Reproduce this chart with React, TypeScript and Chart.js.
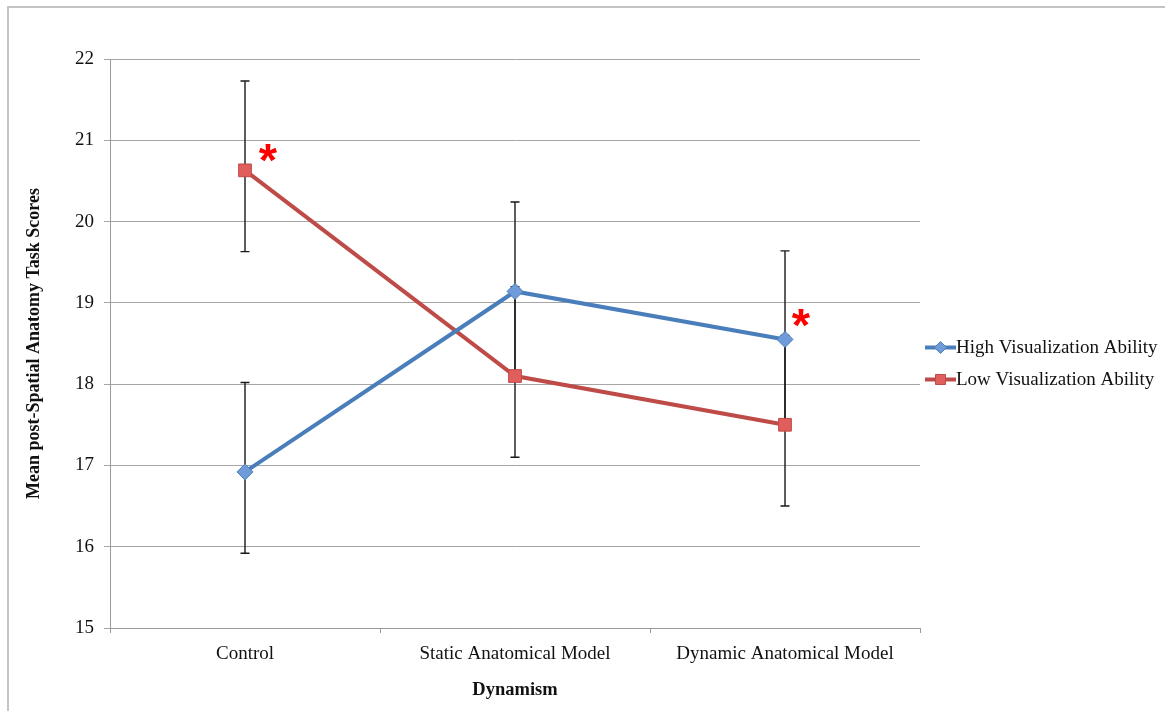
import React, { useEffect, useRef } from 'react';
import { Chart, registerables } from 'chart.js';

Chart.register(...registerables);

const categories = ['Control', 'Static Anatomical Model', 'Dynamic Anatomical Model'];
const seriesLabels = ['High Visualization Ability', 'Low Visualization Ability'];
const highValues = [16.92, 19.14, 18.55];
const lowValues = [20.63, 18.1, 17.5];
const highErrPlus = [1.1, 1.1, 1.09];
const highErrMinus = [1.0, 1.0, 1.0];
const lowErrPlus = [1.1, 1.1, 1.1];
const lowErrMinus = [1.0, 1.0, 1.0];
const yMin = 15;
const yMax = 22;
const yStep = 1;
const yTitle = 'Mean post-Spatial Anatomy Task Scores';
const xTitle = 'Dynamism';
// significance markers: [seriesIndex, categoryIndex]
const sigSeries = [1, 0];
const sigIndex = [0, 2];

const FONT = "'Liberation Serif', 'Times New Roman', serif";
const BLUE = '#4a7ebb';
const BLUE_FILL = '#6f9bd8';
const RED = '#be4b48';
const RED_FILL = '#e05e5b';

const errPlus = [highErrPlus, lowErrPlus];
const errMinus = [highErrMinus, lowErrMinus];

const errorBarPlugin = {
  id: 'errorBars',
  beforeDatasetsDraw(chart: any) {
    const { ctx } = chart;
    const x = chart.scales.x;
    const y = chart.scales.y;
    ctx.save();
    ctx.strokeStyle = '#1a1a1a';
    ctx.lineWidth = 1.4;
    chart.data.datasets.forEach((ds: any, di: number) => {
      ds.data.forEach((v: number, i: number) => {
        const px = x.getPixelForValue(i);
        const top = y.getPixelForValue(v + errPlus[di][i]);
        const bot = y.getPixelForValue(v - errMinus[di][i]);
        ctx.beginPath();
        ctx.moveTo(px, top);
        ctx.lineTo(px, bot);
        ctx.moveTo(px - 4.5, top);
        ctx.lineTo(px + 4.5, top);
        ctx.moveTo(px - 4.5, bot);
        ctx.lineTo(px + 4.5, bot);
        ctx.stroke();
      });
    });
    ctx.restore();
  },
};

const sigPlugin = {
  id: 'sigMarks',
  afterDatasetsDraw(chart: any) {
    const { ctx } = chart;
    ctx.save();
    ctx.fillStyle = '#ff0000';
    ctx.font = "bold 47px 'Liberation Sans', Arial, sans-serif";
    ctx.textAlign = 'center';
    ctx.textBaseline = 'alphabetic';
    const m = ctx.measureText('*');
    const asc = m.actualBoundingBoxAscent;
    const desc = m.actualBoundingBoxDescent;
    const midOff = (asc - desc) / 2;
    sigSeries.forEach((s, k) => {
      const pt = chart.getDatasetMeta(s).data[sigIndex[k]];
      const dx = s === 1 ? 23 : 16;
      const dy = s === 1 ? -17 : -21;
      ctx.fillText('*', pt.x + dx, pt.y + dy + midOff);
    });
    ctx.restore();
  },
};

const legendPlugin = {
  id: 'customLegend',
  afterDraw(chart: any) {
    const { ctx, chartArea } = chart;
    ctx.save();
    const x0 = chartArea.right + 5;
    const cy = chart.height / 2 + 8;
    const n = chart.data.datasets.length;
    const gap = 32;
    chart.data.datasets.forEach((ds: any, i: number) => {
      const yy = cy + (i - (n - 1) / 2) * gap;
      ctx.strokeStyle = ds.borderColor;
      ctx.lineWidth = 4;
      ctx.beginPath();
      ctx.moveTo(x0, yy);
      ctx.lineTo(x0 + 31, yy);
      ctx.stroke();
      const mx = x0 + 15.5;
      ctx.fillStyle = ds.pointBackgroundColor;
      ctx.strokeStyle = ds.pointBorderColor;
      ctx.lineWidth = 1;
      ctx.beginPath();
      if (ds.pointStyle === 'rectRot') {
        const r = 6;
        ctx.moveTo(mx, yy - r);
        ctx.lineTo(mx + r, yy);
        ctx.lineTo(mx, yy + r);
        ctx.lineTo(mx - r, yy);
        ctx.closePath();
      } else {
        ctx.rect(mx - 5, yy - 5, 10, 10);
      }
      ctx.fill();
      ctx.stroke();
      ctx.fillStyle = '#111';
      ctx.font = `19px ${FONT}`;
      ctx.textAlign = 'left';
      ctx.textBaseline = 'middle';
      ctx.fillText(ds.label, x0 + 31, yy + 1);
    });
    ctx.restore();
  },
};

export default function App() {
  const ref = useRef<HTMLCanvasElement>(null);

  useEffect(() => {
    if (!ref.current) return;
    const chart = new Chart(ref.current, {
      type: 'line',
      data: {
        labels: categories,
        datasets: [
          {
            label: seriesLabels[0],
            data: highValues,
            borderColor: BLUE,
            backgroundColor: BLUE,
            borderWidth: 4,
            pointStyle: 'rectRot',
            pointRadius: 8,
            pointBackgroundColor: BLUE_FILL,
            pointBorderColor: BLUE,
            pointBorderWidth: 1,
            tension: 0,
          },
          {
            label: seriesLabels[1],
            data: lowValues,
            borderColor: RED,
            backgroundColor: RED,
            borderWidth: 4,
            pointStyle: 'rect',
            pointRadius: 9,
            pointBackgroundColor: RED_FILL,
            pointBorderColor: RED,
            pointBorderWidth: 1,
            tension: 0,
          },
        ],
      },
      options: {
        responsive: false,
        animation: false,
        layout: { padding: { top: 59, right: 245, bottom: 0, left: 0 } },
        plugins: {
          legend: { display: false },
          tooltip: { enabled: false },
        },
        scales: {
          x: {
            type: 'category',
            offset: true,
            grid: {
              offset: true,
              drawOnChartArea: false,
              drawTicks: true,
              tickLength: 5,
              color: '#9a9a9a',
            },
            border: { color: '#9a9a9a', width: 1 },
            ticks: {
              color: '#111',
              font: { family: FONT, size: 19 },
              padding: 10,
              maxRotation: 0,
              autoSkip: false,
            },
            title: {
              display: true,
              text: xTitle,
              color: '#111',
              font: { family: FONT, size: 18.5, weight: 'bold' },
              padding: { top: 0, bottom: 10 },
            },
            afterFit: (s: any) => {
              s.height = 83;
            },
          },
          y: {
            min: yMin,
            max: yMax,
            ticks: {
              stepSize: yStep,
              color: '#111',
              font: { family: FONT, size: 19 },
              padding: 10,
            },
            grid: {
              color: '#a6a6a6',
              lineWidth: 1,
              tickLength: 6,
              drawTicks: true,
            },
            border: { color: '#9a9a9a', width: 1 },
            title: {
              display: true,
              text: yTitle,
              color: '#111',
              font: { family: FONT, size: 18, weight: 'bold' },
              padding: { top: 24, bottom: 0 },
            },
            afterFit: (s: any) => {
              s.width = 110;
            },
          },
        },
      },
      plugins: [errorBarPlugin, sigPlugin, legendPlugin],
    } as any);
    return () => chart.destroy();
  }, []);

  return (
    <div
      style={{
        position: 'absolute',
        left: 0,
        top: 0,
        width: 1165,
        height: 711,
        overflow: 'hidden',
        background: '#fff',
      }}
    >
      <div
        style={{
          position: 'absolute',
          left: 7,
          top: 6,
          width: 1300,
          height: 900,
          borderTop: '2px solid #c4c4c4',
          borderLeft: '2px solid #c4c4c4',
        }}
      />
      <canvas
        ref={ref}
        width={1165}
        height={711}
        style={{ position: 'absolute', left: 0, top: 0 }}
      />
    </div>
  );
}
